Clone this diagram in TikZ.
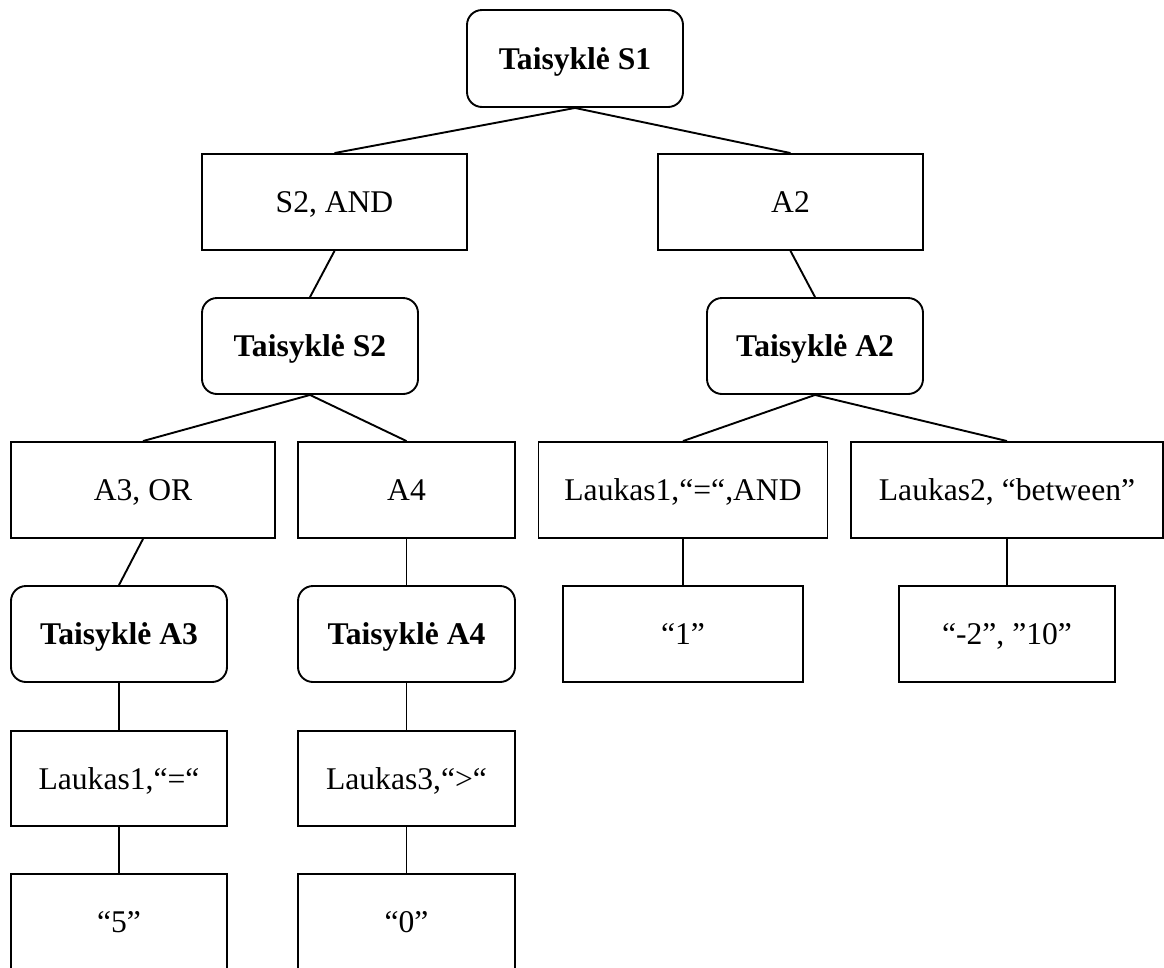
\documentclass[tikz,border=0pt]{standalone}
\usepackage{fontspec}
\setmainfont{Liberation Serif}
\begin{document}
\begin{tikzpicture}[x=1pt, y=-1pt,
  every node/.style={inner sep=0pt, align=center, text height=21pt, text depth=0pt,
                     font=\fontsize{31.6}{37}\selectfont},
  sbox/.style={draw, line width=1.9pt, minimum height=96pt},
  rbox/.style={draw, line width=1.9pt, rounded corners=15pt, minimum height=96pt,
               font=\fontsize{31.6}{37}\selectfont\bfseries},
  link/.style={line width=1.9pt}]
\useasboundingbox (0,0) rectangle (1164,967);
\clip (0,0) rectangle (1164,967);

% level 1
\node[rbox, minimum width=216pt, minimum height=97pt] (s1) at (575,58.5) {Taisyklė S1};
% level 2
\node[sbox, minimum width=265pt] (s2and) at (334.5,202) {S2, AND};
\node[sbox, minimum width=265pt] (a2) at (790.5,202) {A2};
% level 3
\node[rbox, minimum width=216pt] (ts2) at (310,346) {Taisyklė S2};
\node[rbox, minimum width=216pt] (ta2) at (815,346) {Taisyklė A2};
% level 4
\node[sbox, minimum width=264pt] (a3or) at (143,490) {A3, OR};
\node[sbox, minimum width=217pt] (a4) at (406.5,490) {A4};
\node[sbox, minimum width=289pt] (l1and) at (683,490) {Laukas1,“=“,AND};
\node[sbox, minimum width=312pt] (l2) at (1007,490) {Laukas2, “between”};
% level 5
\node[rbox, minimum width=216pt] (ta3) at (119,634) {Taisyklė A3};
\node[rbox, minimum width=217pt] (ta4) at (406.5,634) {Taisyklė A4};
\node[sbox, minimum width=240pt] (one) at (683,634) {“1”};
\node[sbox, minimum width=216pt] (m2) at (1007,634) {“-2”, ”10”};
% level 6
\node[sbox, minimum width=216pt, minimum height=95pt] (l1) at (119,778.5) {Laukas1,“=“};
\node[sbox, minimum width=217pt, minimum height=95pt] (l3) at (406.5,778.5) {Laukas3,“>“};
% level 7
\node[sbox, minimum width=216pt] (five) at (119,922) {“5”};
\node[sbox, minimum width=217pt] (zero) at (406.5,922) {“0”};

% connectors
\draw[link] (s1.south) -- (s2and.north);
\draw[link] (s1.south) -- (a2.north);
\draw[link] (s2and.south) -- (ts2.north);
\draw[link] (a2.south) -- (ta2.north);
\draw[link] (ts2.south) -- (a3or.north);
\draw[link] (ts2.south) -- (a4.north);
\draw[link] (ta2.south) -- (l1and.north);
\draw[link] (ta2.south) -- (l2.north);
\draw[link] (a3or.south) -- (ta3.north);
\draw[link] (a4.south) -- (ta4.north);
\draw[link] (l1and.south) -- (one.north);
\draw[link] (l2.south) -- (m2.north);
\draw[link] (ta3.south) -- (l1.north);
\draw[link] (ta4.south) -- (l3.north);
\draw[link] (l1.south) -- (five.north);
\draw[link] (l3.south) -- (zero.north);
\end{tikzpicture}
\end{document}
